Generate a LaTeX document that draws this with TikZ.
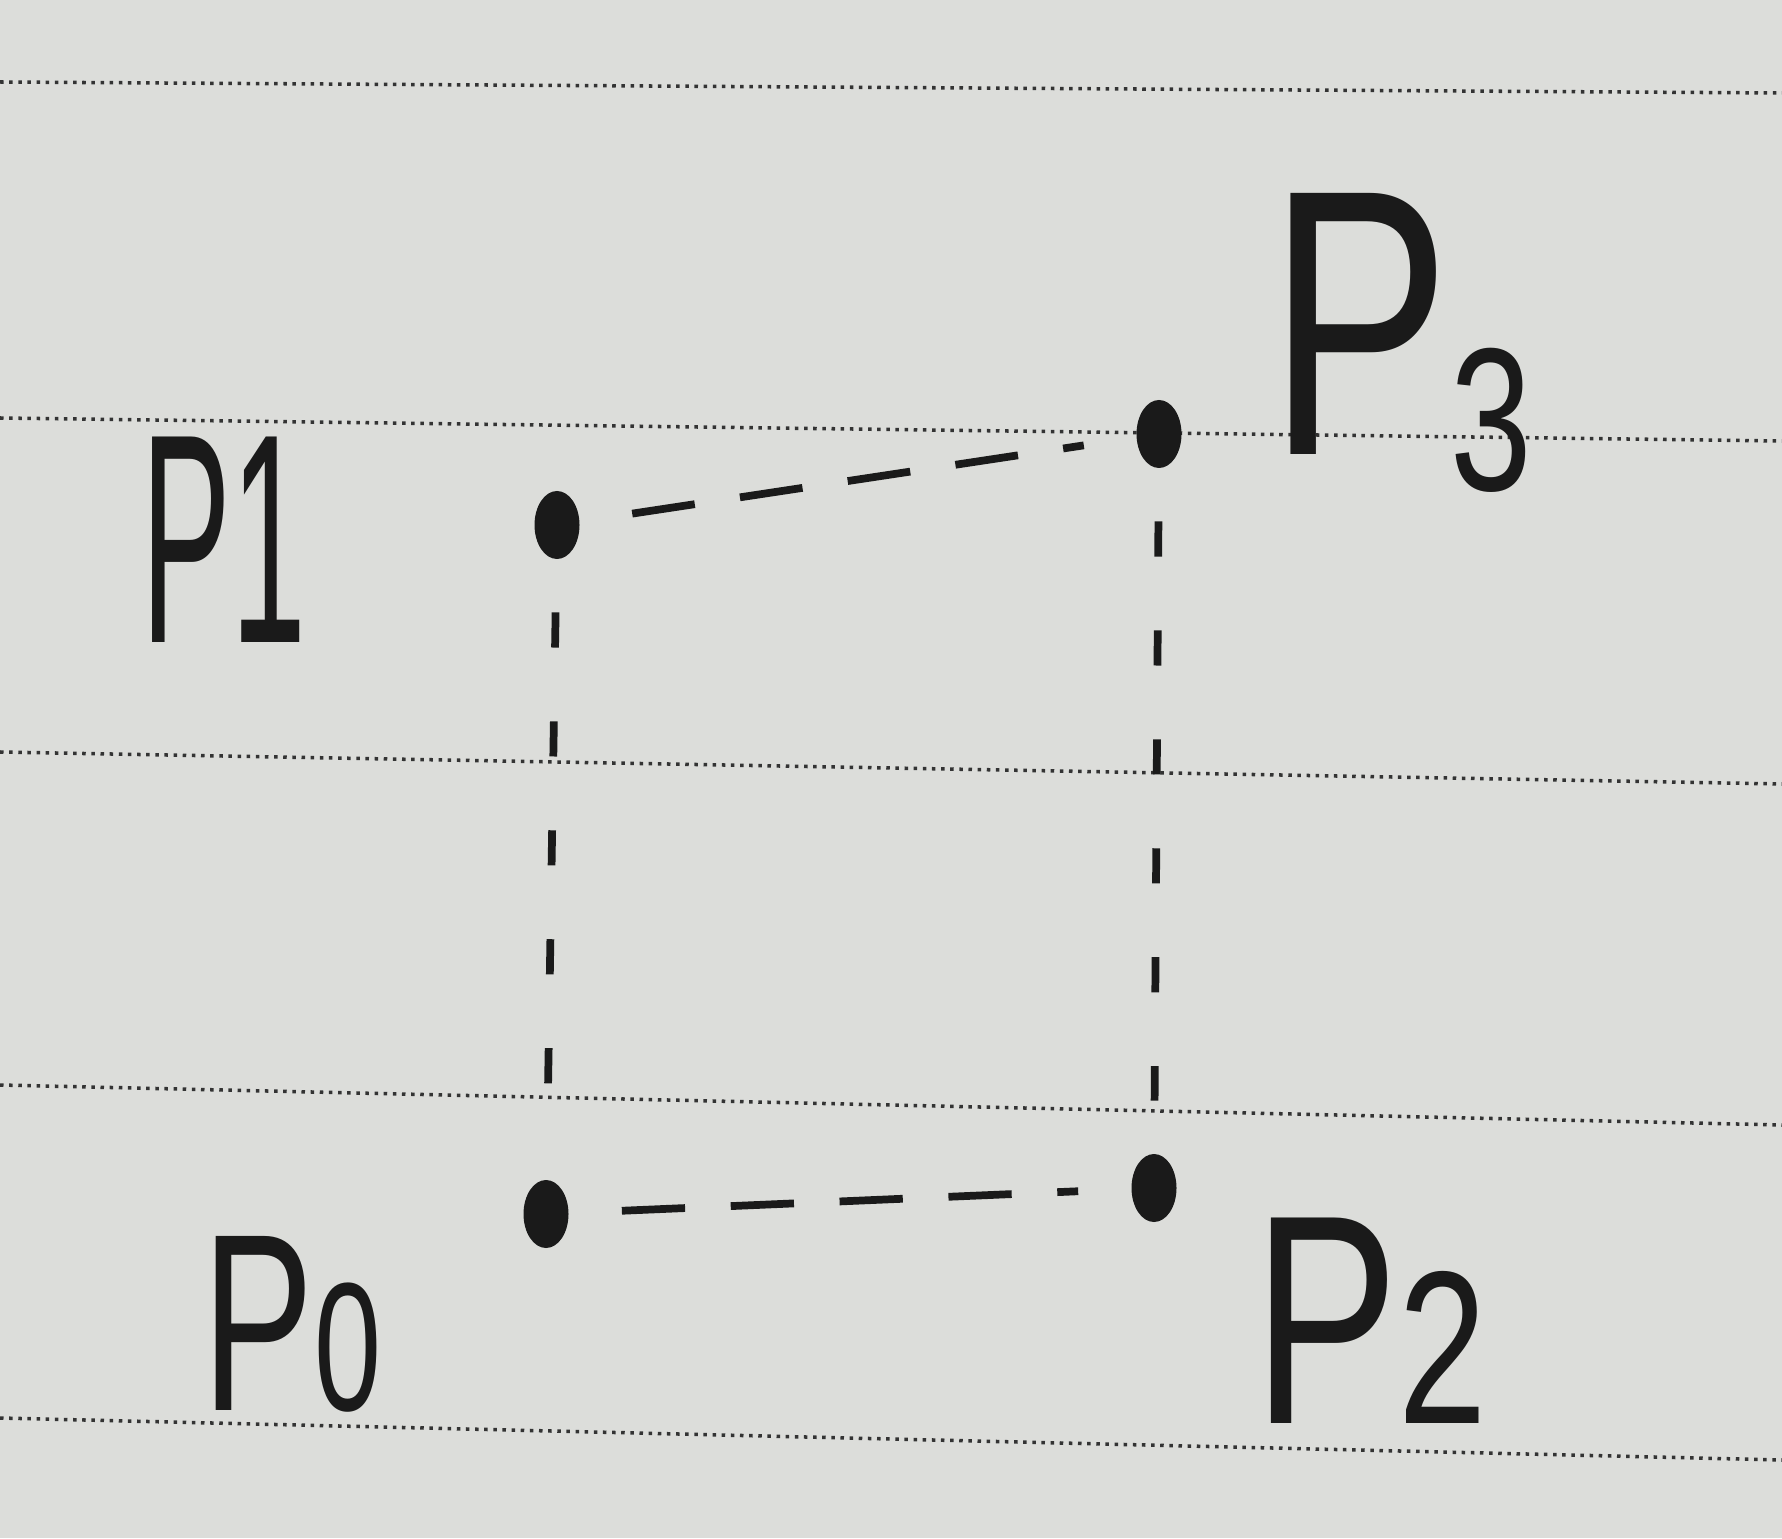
\documentclass[tikz,border=0pt]{standalone}
\usepackage{fontspec}
\setmainfont{Liberation Sans}
\usepackage{xcolor}
\usepackage{graphicx}
\usepackage{tikz}
\usetikzlibrary{positioning, shapes.geometric, arrows.meta, calc}

\definecolor{paper}{HTML}{DCDDDA}
\definecolor{ink}{HTML}{1A1A1A}
\definecolor{rule}{HTML}{333333}

\begin{document}
\begin{tikzpicture}[
  pt/.style={ellipse, fill=ink, inner sep=0pt, minimum width=0.45cm, minimum height=0.68cm},
  lbl/.style={text=ink, inner sep=0pt, font=\fontsize{85}{85}\selectfont},
  edge/.style={draw=ink, line width=2.2pt, dash pattern=on 18pt off 13pt, shorten >=15pt, shorten <=15pt},
  vedge/.style={edge, dash pattern=on 10pt off 21pt},
  ruled/.style={draw=rule, line width=1pt, dash pattern=on 1pt off 1.6pt}
]
  \useasboundingbox (0,0) rectangle (17.82,15.38);
  \fill[paper] (0,0) rectangle (17.82,15.38);

  % notebook lines
  \draw[ruled] (0,14.56) -- (17.82,14.45);
  \draw[ruled] (0,11.20) -- (17.82,10.97);
  \draw[ruled] (0,7.86) -- (17.82,7.54);
  \draw[ruled] (0,4.53) -- (17.82,4.13);
  \draw[ruled] (0,1.20) -- (17.82,0.78);

  \node[pt] (p1) at (5.57,10.13) {};
  \node[pt] (p3) at (11.59,11.04) {};
  \node[pt] (p0) at (5.46,3.24) {};
  \node[pt] (p2) at (11.54,3.50) {};

  \node[lbl] (l1) at (2.24,9.98) {\scalebox{0.45}[1]{P1}};
  \node[lbl, font=\fontsize{108}{108}\selectfont] (l3) at (14.00,11.95)
    {\scalebox{0.72}[1]{P{\fontsize{58}{58}\selectfont\raisebox{-10pt}{3}}}};
  \node[lbl, font=\fontsize{72}{72}\selectfont] (l0) at (2.92,2.14)
    {\scalebox{0.66}[1]{P{\fontsize{52}{52}\selectfont 0}}};
  \node[lbl] (l2) at (13.70,2.17) {\scalebox{0.73}[1]{P{\fontsize{62}{62}\selectfont 2}}};

  \draw[edge] (p1) -- (p3);
  \draw[edge] (p0) -- (p2);
  \draw[vedge] (p1) -- (p0);
  \draw[vedge] (p3) -- (p2);
\end{tikzpicture}
\end{document}
